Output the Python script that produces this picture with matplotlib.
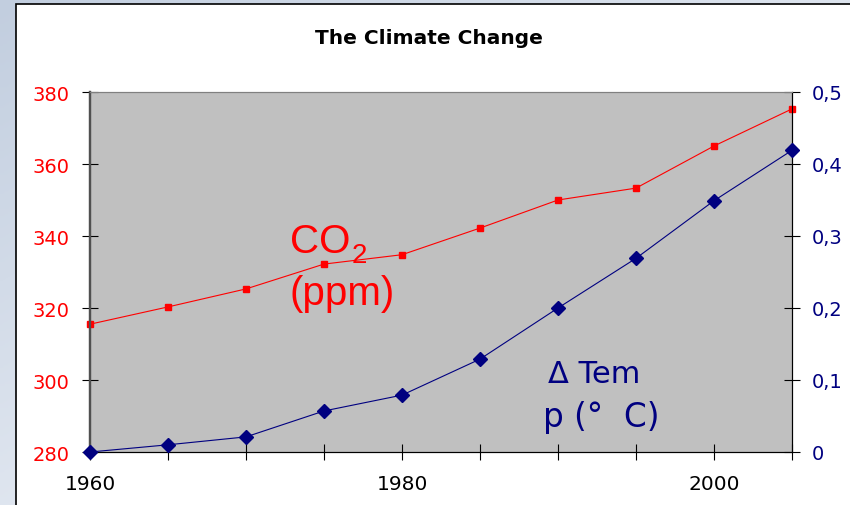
import matplotlib.pyplot as plt
import numpy as np
from matplotlib.colors import LinearSegmentedColormap
from matplotlib.patches import Rectangle
from matplotlib.ticker import FixedLocator, FuncFormatter

plt.rcParams["font.family"] = ["DejaVu Sans"]

years = [1960, 1965, 1970, 1975, 1980, 1985, 1990, 1995, 2000, 2005]
co2_ppm = [315.5, 320.3, 325.3, 332.2, 334.8, 342.2, 350.0, 353.3, 365.0, 375.3]
delta_temp = [0.0, 0.01, 0.021, 0.057, 0.079, 0.129, 0.2, 0.269, 0.349, 0.419]

left_ticks = [280, 300, 320, 340, 360, 380]
right_ticks = [0, 0.1, 0.2, 0.3, 0.4, 0.5]
x_labels = [1960, 1980, 2000]

W, H = 850, 506
fig = plt.figure(figsize=(W / 100, H / 100), dpi=100)


def fx(px):
    return px / W


def fy(py):
    return 1 - py / H


# slide-like backdrop: bluish gradient behind a white panel
bg = fig.add_axes([0, 0, 1, 1], zorder=-10)
gx, gy = np.meshgrid(np.linspace(0, 1, 200), np.linspace(0, 1, 200))
bg.imshow(np.clip(0.55 * gx + 0.6 * gy, 0, 1), extent=[0, 1, 0, 1], aspect="auto", origin="upper",
          cmap=LinearSegmentedColormap.from_list("bgc", ["#c2cedf", "#f2f5fa"]))
bg.set_xlim(0, 1)
bg.set_ylim(0, 1)
bg.set_axis_off()
bg.add_patch(Rectangle((fx(16), -0.01), 1, fy(5) + 0.01, facecolor="white", edgecolor="black", linewidth=1.2))

ax = fig.add_axes([fx(90), fy(453), 702 / W, 360 / H])
ax.set_facecolor("#c0c0c0")
ax.plot(years, co2_ppm, color="#ff0000", linewidth=0.8, marker="s", markersize=3.8, clip_on=False, zorder=3)
ax.set_xlim(1960, 2005)
ax.set_ylim(280, 380)
ax.yaxis.set_major_locator(FixedLocator(left_ticks))
ax.xaxis.set_major_locator(FixedLocator(years))
ax.xaxis.set_major_formatter(FuncFormatter(lambda v, p: str(int(v)) if int(v) in x_labels else ""))
ax.tick_params(axis="y", colors="black", labelcolor="#ff0000", labelsize=14, direction="inout", length=12, pad=8.5)
ax.tick_params(axis="x", colors="black", labelcolor="black", labelsize=14.5, direction="inout", length=11, pad=10)

ax2 = ax.twinx()
ax2.plot(years, delta_temp, color="#000080", linewidth=0.8, marker="D", markersize=7, clip_on=False, zorder=4)
ax2.set_ylim(0, 0.5)
ax2.yaxis.set_major_locator(FixedLocator(right_ticks))
ax2.yaxis.set_major_formatter(FuncFormatter(lambda v, p: "0" if v == 0 else f"{v:.1f}".replace(".", ",")))
ax2.tick_params(axis="y", colors="black", labelcolor="#000080", labelsize=14, direction="inout", length=12, pad=8)

for a in (ax, ax2):
    a.spines["top"].set_color("#808080")
    a.spines["top"].set_linewidth(0.8)
    a.spines["left"].set_color("#505050")
    a.spines["left"].set_linewidth(1.6)
    a.spines["bottom"].set_color("black")
    a.spines["right"].set_color("black")

# in-plot labels
fig.text(fx(290), fy(253), "CO", color="#ff0000", fontsize=29, family="Liberation Sans",
         ha="left", va="baseline")
fig.text(fx(352), fy(263), "2", color="#ff0000", fontsize=20, family="Liberation Sans",
         ha="left", va="baseline")
fig.text(fx(290), fy(305), "(ppm)", color="#ff0000", fontsize=29, family="Liberation Sans",
         ha="left", va="baseline")
fig.text(fx(548), fy(383), "\u0394 Tem", color="#000080", fontsize=22, ha="left", va="baseline")
fig.text(fx(543), fy(427), "p (\u00b0  C)", color="#000080", fontsize=23.5, ha="left", va="baseline")

fig.text(fx(428.5), fy(44), "The Climate Change", ha="center", va="baseline",
         fontsize=14.5, fontweight="bold", color="black")

fig.savefig("out.png", dpi=100)
